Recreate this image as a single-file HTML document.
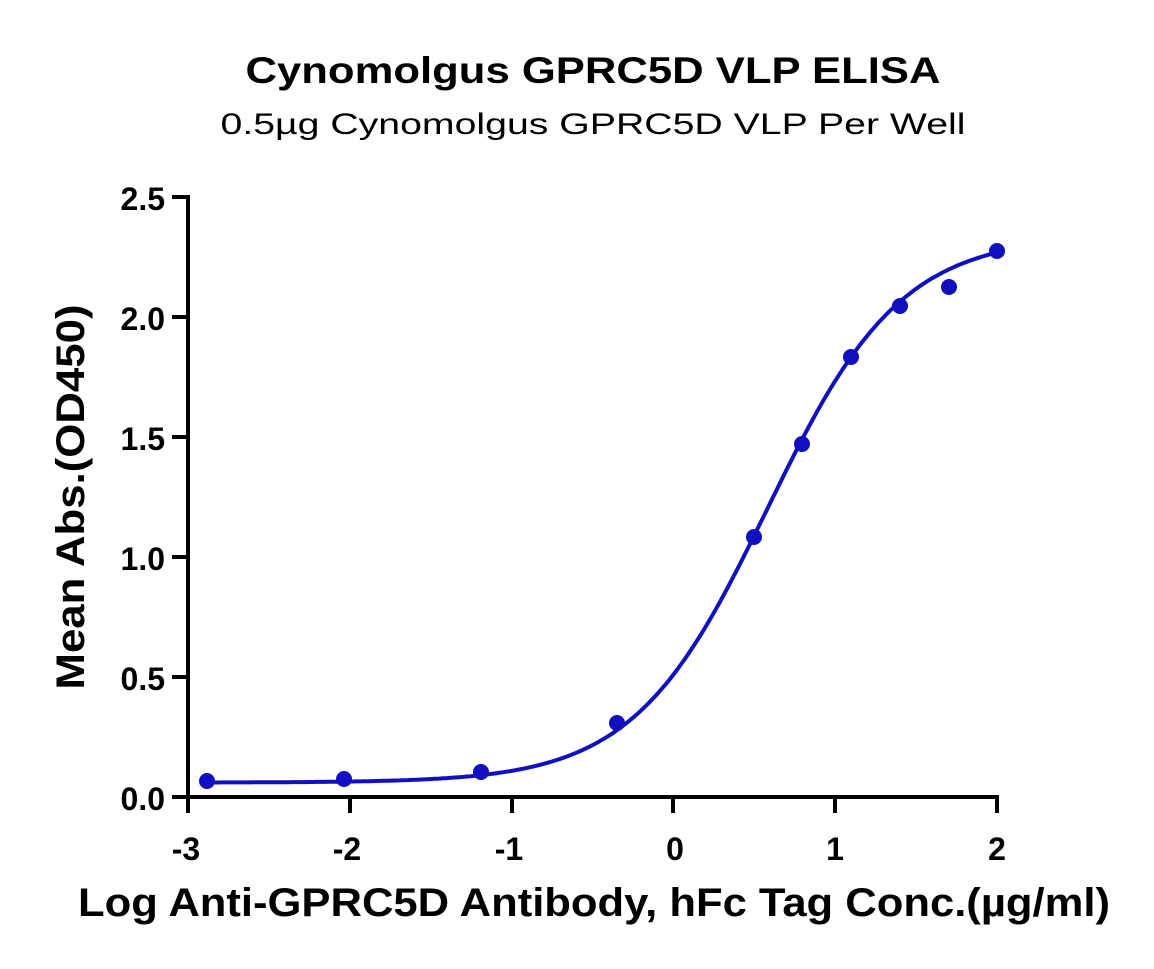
<!DOCTYPE html>
<html><head><meta charset="utf-8"><style>
html,body{margin:0;padding:0;background:#fff;}
svg{display:block;font-family:"Liberation Sans",Arial,sans-serif;}
</style></head><body>
<svg width="1154" height="969" viewBox="0 0 1154 969" xmlns="http://www.w3.org/2000/svg">
<text x="593" y="83" text-anchor="middle" font-size="37" font-weight="bold" textLength="695" lengthAdjust="spacingAndGlyphs">Cynomolgus GPRC5D VLP ELISA</text>
<text x="593" y="134" text-anchor="middle" font-size="30" textLength="745" lengthAdjust="spacingAndGlyphs">0.5µg Cynomolgus GPRC5D VLP Per Well</text>
<g stroke="#000" stroke-width="4" fill="none">
<line x1="188" y1="195" x2="188" y2="799"/>
<line x1="186" y1="797" x2="999" y2="797"/>
<line x1="172" y1="197" x2="188" y2="197"/>
<line x1="172" y1="317" x2="188" y2="317"/>
<line x1="172" y1="437" x2="188" y2="437"/>
<line x1="172" y1="557" x2="188" y2="557"/>
<line x1="172" y1="677" x2="188" y2="677"/>
<line x1="172" y1="797" x2="188" y2="797"/>
<line x1="188" y1="797" x2="188" y2="813"/>
<line x1="350" y1="797" x2="350" y2="813"/>
<line x1="512" y1="797" x2="512" y2="813"/>
<line x1="673" y1="797" x2="673" y2="813"/>
<line x1="835" y1="797" x2="835" y2="813"/>
<line x1="997" y1="797" x2="997" y2="813"/>
</g>
<g font-size="32" font-weight="bold" text-anchor="end">
<text x="165" y="210">2.5</text><text x="165" y="330">2.0</text><text x="165" y="450">1.5</text>
<text x="165" y="570">1.0</text><text x="165" y="690">0.5</text><text x="165" y="810">0.0</text>
</g>
<g font-size="32" font-weight="bold" text-anchor="middle">
<text x="186" y="860">-3</text><text x="347" y="860">-2</text><text x="509" y="860">-1</text>
<text x="675" y="860">0</text><text x="835" y="860">1</text><text x="997" y="860">2</text>
</g>
<text transform="translate(84,497) rotate(-90)" text-anchor="middle" font-size="40" font-weight="bold" textLength="385" lengthAdjust="spacingAndGlyphs">Mean Abs.(OD450)</text>
<text x="594" y="916" text-anchor="middle" font-size="40" font-weight="bold" textLength="1032" lengthAdjust="spacingAndGlyphs">Log Anti-GPRC5D Antibody, hFc Tag Conc.(µg/ml)</text>
<path id="curve" fill="none" stroke="#1010c0" stroke-width="4"/>
<g fill="#1010c0">
<circle cx="207" cy="781" r="8"/><circle cx="344" cy="779" r="8"/><circle cx="481" cy="772" r="8"/>
<circle cx="617" cy="723" r="8"/><circle cx="754" cy="537" r="8"/><circle cx="802" cy="444" r="8"/>
<circle cx="851" cy="357" r="8"/><circle cx="900" cy="306" r="8"/><circle cx="949" cy="287" r="8"/>
<circle cx="997" cy="251" r="8"/>
</g>
<script>
var d="";for(var i=0;i<=200;i++){var x=-2.89+i*(4.89/200);var y=0.06+2.28/(1+Math.pow(10,(0.58-x)*1.05));
var px=188+(x+3)*161.8,py=797-y*240;d+=(i?"L":"M")+px.toFixed(1)+" "+py.toFixed(1);}
document.getElementById("curve").setAttribute("d",d);
</script>
</svg>
</body></html>
